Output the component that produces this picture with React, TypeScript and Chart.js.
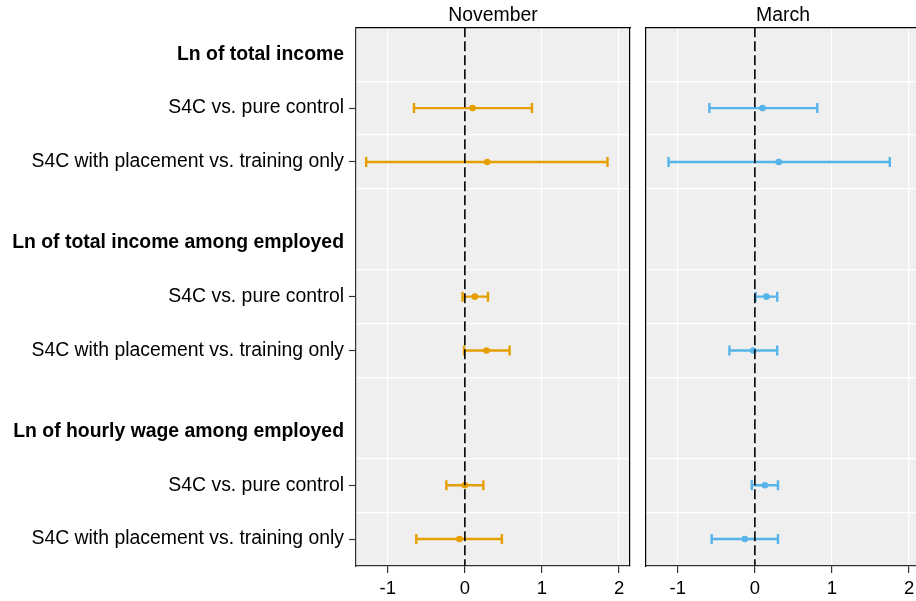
import React, { useEffect, useRef } from 'react';
import { Chart, registerables } from 'chart.js';
Chart.register(...registerables);

const FONT = "'Liberation Sans', Arial, Helvetica, sans-serif";

// Row layout (reversed linear axis 0..10)
const rowLabels = [
  'Ln of total income',
  'S4C vs. pure control',
  'S4C with placement vs. training only',
  'Ln of total income among employed',
  'S4C vs. pure control',
  'S4C with placement vs. training only',
  'Ln of hourly wage among employed',
  'S4C vs. pure control',
  'S4C with placement vs. training only',
];
const rowPositions = [0.5, 1.5, 2.5, 4, 5, 6, 7.5, 8.5, 9.5];
const headerRows = [true, false, false, true, false, false, true, false, false];
const gridRows = [1, 2, 3, 4.5, 5.5, 6.5, 8, 9];
const estimateRows = [1.5, 2.5, 5, 6, 8.5, 9.5];

// November
const novEstimate = [0.10, 0.29, 0.13, 0.28, 0.00, -0.07];
const novLower = [-0.66, -1.28, -0.03, -0.01, -0.24, -0.63];
const novUpper = [0.87, 1.85, 0.30, 0.58, 0.24, 0.48];
// March
const marEstimate = [0.10, 0.31, 0.15, -0.02, 0.13, -0.13];
const marLower = [-0.59, -1.12, 0.01, -0.33, -0.04, -0.56];
const marUpper = [0.81, 1.75, 0.29, 0.29, 0.30, 0.30];

const xTicks = [-1, 0, 1, 2];
const xMin = -1.412;
const xMax = 2.142;

const isHeader = (v: number) => {
  const i = rowPositions.indexOf(v);
  return i >= 0 && headerRows[i];
};

const bgPlugin = {
  id: 'panelBg',
  beforeDraw(chart: any) {
    const { ctx, chartArea } = chart;
    ctx.save();
    ctx.fillStyle = '#EFEFEF';
    ctx.fillRect(chartArea.left, chartArea.top, chartArea.right - chartArea.left, chartArea.bottom - chartArea.top);
    ctx.restore();
  },
};

function makeConfig(opts: {
  title: string;
  color: string;
  est: number[];
  lower: number[];
  upper: number[];
  showLabels: boolean;
  yWidth: number;
  leftBorder: string;
}): any {
  const { title, color, est, lower, upper, showLabels, yWidth, leftBorder } = opts;
  const datasets: any[] = [];
  datasets.push({
    data: [{ x: 0, y: 0 }, { x: 0, y: 10 }],
    showLine: true,
    borderColor: '#000',
    borderWidth: 1.6,
    borderDash: [10, 4],
    pointRadius: 0,
  });
  estimateRows.forEach((r, i) => {
    datasets.push({
      data: [{ x: lower[i], y: r }, { x: upper[i], y: r }],
      showLine: true,
      borderColor: color,
      borderWidth: 2.4,
      pointRadius: 0,
    });
  });
  datasets.push({
    data: estimateRows.flatMap((r, i) => [{ x: lower[i], y: r }, { x: upper[i], y: r }]),
    pointStyle: 'line',
    rotation: 90,
    pointRadius: 5,
    borderColor: color,
    borderWidth: 2.4,
  });
  datasets.push({
    data: estimateRows.map((r, i) => ({ x: est[i], y: r })),
    pointStyle: 'circle',
    pointRadius: 3.3,
    backgroundColor: color,
    borderColor: color,
    borderWidth: 0,
  });

  return {
    type: 'scatter',
    data: { datasets },
    plugins: [bgPlugin],
    options: {
      responsive: false,
      devicePixelRatio: 1,
      animation: false,
      layout: { padding: 0, autoPadding: false },
      plugins: {
        legend: { display: false },
        tooltip: { enabled: false },
        title: {
          display: true,
          text: title,
          fullSize: false,
          color: '#000',
          font: { family: FONT, size: 19.4, weight: 'normal' },
          padding: { top: 4, bottom: 0 },
        },
      },
      scales: {
        x: {
          type: 'linear',
          position: 'bottom',
          min: xMin,
          max: xMax,
          afterBuildTicks: (s: any) => {
            s.ticks = xTicks.map((v) => ({ value: v }));
          },
          afterFit: (s: any) => {
            s.height = 35;
            s.paddingLeft = 0;
            s.paddingRight = 0;
          },
          ticks: {
            color: '#000',
            font: { family: FONT, size: 18.5 },
            padding: 5,
            maxRotation: 0,
            autoSkip: false,
            callback: (v: any) => String(v),
          },
          grid: { color: '#FFFFFF', lineWidth: 1.2, tickLength: 7, tickColor: '#333', tickWidth: 1.2 },
          border: { color: '#333', width: 1.2 },
        },
        x2: {
          type: 'linear',
          position: 'top',
          min: xMin,
          max: xMax,
          afterFit: (s: any) => {
            s.height = 0;
            s.paddingLeft = 0;
            s.paddingRight = 0;
          },
          ticks: { display: false },
          grid: { display: false, drawTicks: false },
          border: { color: '#000', width: 1.2 },
        },
        y: {
          type: 'linear',
          position: 'left',
          min: 0,
          max: 10,
          reverse: true,
          afterBuildTicks: (s: any) => {
            s.ticks = rowPositions.map((v) => ({ value: v }));
          },
          afterFit: (s: any) => {
            s.width = yWidth;
            s.paddingTop = 0;
            s.paddingBottom = 0;
          },
          ticks: {
            display: showLabels,
            autoSkip: false,
            padding: 5,
            color: '#000',
            callback: (v: any) => {
              const i = rowPositions.indexOf(v);
              return i >= 0 ? rowLabels[i] : '';
            },
            font: (ctx: any) => ({
              family: FONT,
              size: 19.4,
              weight: ctx.tick && isHeader(ctx.tick.value) ? 'bold' : 'normal',
            }),
          },
          grid: {
            drawOnChartArea: false,
            drawTicks: showLabels,
            tickLength: 7,
            tickWidth: 1.2,
            tickColor: (ctx: any) => (ctx.tick && isHeader(ctx.tick.value) ? 'rgba(0,0,0,0)' : '#333'),
          },
          border: { color: leftBorder, width: 1.2 },
        },
        y2: {
          type: 'linear',
          position: 'right',
          min: 0,
          max: 10,
          reverse: true,
          afterBuildTicks: (s: any) => {
            s.ticks = gridRows.map((v) => ({ value: v }));
          },
          afterFit: (s: any) => {
            s.width = 1;
            s.paddingTop = 0;
            s.paddingBottom = 0;
          },
          ticks: { display: false },
          grid: { color: '#FFFFFF', lineWidth: 1.2, drawTicks: false },
          border: { color: '#000', width: 1.2 },
        },
      },
    },
  };
}

export default function App() {
  const leftRef = useRef<HTMLCanvasElement>(null);
  const rightRef = useRef<HTMLCanvasElement>(null);

  useEffect(() => {
    const left = new Chart(
      leftRef.current as HTMLCanvasElement,
      makeConfig({
        title: 'November',
        color: '#E69F00',
        est: novEstimate,
        lower: novLower,
        upper: novUpper,
        showLabels: true,
        yWidth: 356,
        leftBorder: '#333',
      })
    );
    const right = new Chart(
      rightRef.current as HTMLCanvasElement,
      makeConfig({
        title: 'March',
        color: '#56B4E9',
        est: marEstimate,
        lower: marLower,
        upper: marUpper,
        showLabels: false,
        yWidth: 10,
        leftBorder: '#000',
      })
    );
    return () => {
      left.destroy();
      right.destroy();
    };
  }, []);

  return (
    <div
      style={{
        position: 'fixed',
        left: 0,
        top: 0,
        width: 916,
        height: 601,
        overflow: 'hidden',
        background: '#fff',
      }}
    >
      <canvas ref={leftRef} width={631} height={601} style={{ position: 'absolute', left: 0, top: 0 }} />
      <canvas ref={rightRef} width={285} height={601} style={{ position: 'absolute', left: 636, top: 0 }} />
    </div>
  );
}
